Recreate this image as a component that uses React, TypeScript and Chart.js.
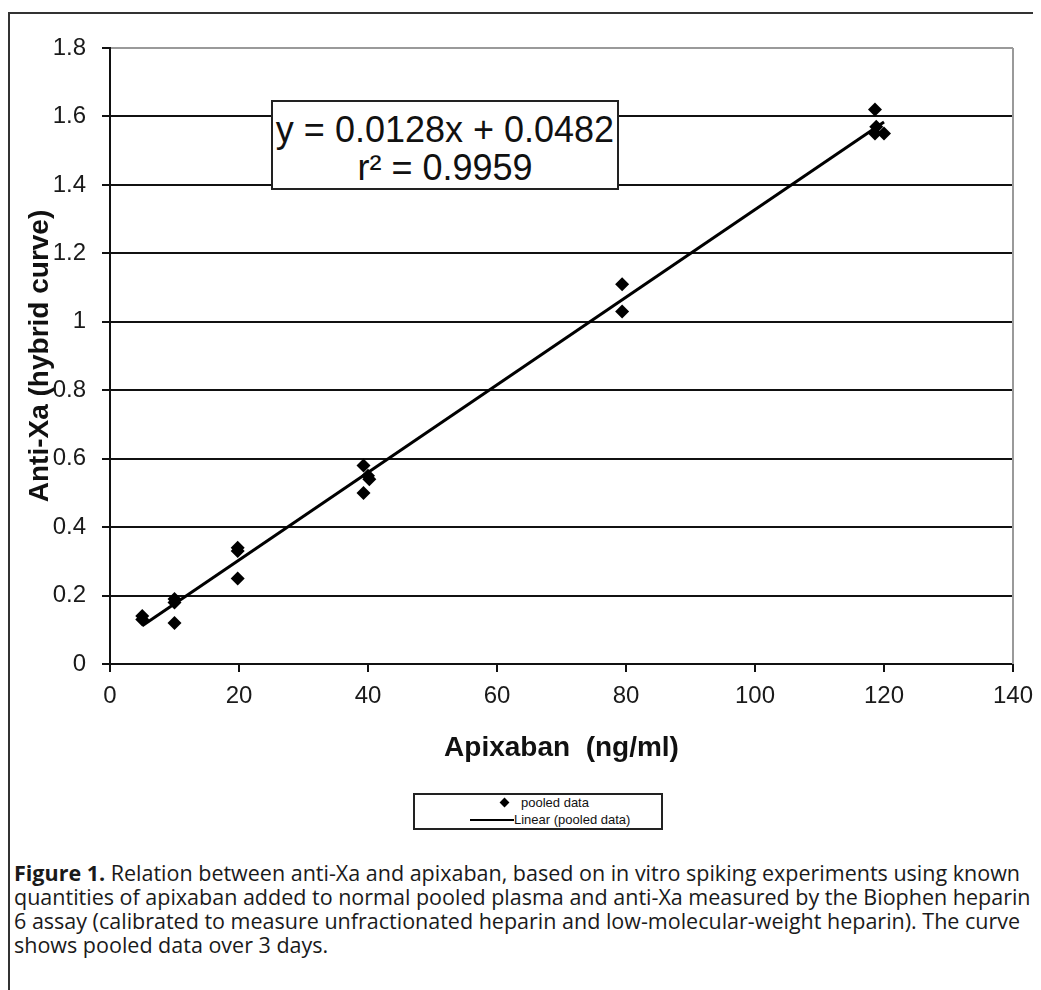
import React, { useEffect, useRef } from "react";
import { Chart, registerables } from "chart.js";

Chart.register(...registerables);

// Data
const pooledX = [5, 5, 10, 10, 10, 19.8, 19.8, 19.8, 39.3, 40, 40.2, 39.3, 79.4, 79.4, 118.6, 118.8, 120, 118.6];
const pooledY = [0.14, 0.13, 0.19, 0.18, 0.12, 0.34, 0.33, 0.25, 0.58, 0.55, 0.54, 0.5, 1.11, 1.03, 1.62, 1.57, 1.55, 1.55];
const trendX = [5, 120];
const trendY = [0.112, 1.584];
const xTicks = [0, 20, 40, 60, 80, 100, 120, 140];
const yTicks = [0, 0.2, 0.4, 0.6, 0.8, 1, 1.2, 1.4, 1.6, 1.8];

const equationLines = ["y = 0.0128x + 0.0482", "r² = 0.9959"];
const legendLabels = ["pooled data", "Linear (pooled data)"];
const captionBold = "Figure 1.";
const captionLines = [
  " Relation between anti-Xa and apixaban, based on in vitro spiking experiments using known",
  "quantities of apixaban added to normal pooled plasma and anti-Xa measured by the Biophen heparin",
  "6 assay (calibrated to measure unfractionated heparin and low-molecular-weight heparin). The curve",
  "shows pooled data over 3 days.",
];

const AXIS_FONT = "'Liberation Sans', Arial, sans-serif";

export default function App() {
  const canvasRef = useRef<HTMLCanvasElement | null>(null);

  useEffect(() => {
    document.body.style.overflow = "hidden";
    document.documentElement.style.overflow = "hidden";
    const canvas = canvasRef.current;
    if (!canvas) return;
    const borderPlugin = {
      id: "plotBorder",
      afterDraw(chart: any) {
        const { ctx, chartArea } = chart;
        ctx.save();
        ctx.strokeStyle = "#9a9a9a";
        ctx.lineWidth = 2;
        ctx.beginPath();
        ctx.moveTo(chartArea.right, chartArea.top);
        ctx.lineTo(chartArea.right, chartArea.bottom);
        ctx.stroke();
        ctx.restore();
      },
    };
    const chart = new Chart(canvas, {
      type: "scatter",
      data: {
        datasets: [
          {
            label: legendLabels[0],
            data: pooledX.map((x, i) => ({ x, y: pooledY[i] })),
            pointStyle: "rectRot",
            pointRadius: 7,
            pointHoverRadius: 7,
            backgroundColor: "#000",
            borderColor: "#000",
            borderWidth: 0,
            order: 2,
          },
          {
            type: "line",
            label: legendLabels[1],
            data: trendX.map((x, i) => ({ x, y: trendY[i] })),
            borderColor: "#000",
            borderWidth: 3,
            pointRadius: 0,
            showLine: true,
            fill: false,
            order: 1,
          } as any,
        ],
      },
      options: {
        animation: false,
        responsive: false,
        events: [],
        layout: { padding: { left: 4, right: 28, top: 34, bottom: 30 } },
        plugins: {
          legend: { display: false },
          tooltip: { enabled: false },
        },
        scales: {
          x: {
            type: "linear",
            min: 0,
            max: 140,
            afterBuildTicks: (scale: any) => {
              scale.ticks = xTicks.map((v) => ({ value: v }));
            },
            afterFit: (scale: any) => {
              scale.height = 110;
              scale.paddingRight = 0;
              scale.paddingLeft = 0;
            },
            ticks: {
              color: "#1a1a1a",
              font: { family: AXIS_FONT, size: 24 },
              padding: 10,
              maxRotation: 0,
            },
            grid: {
              drawOnChartArea: false,
              drawTicks: true,
              tickLength: 8,
              color: "#111",
              lineWidth: 2,
            },
            border: { display: true, color: "#111", width: 2 },
            title: {
              display: true,
              text: "Apixaban  (ng/ml)",
              color: "#111",
              font: { family: AXIS_FONT, size: 28, weight: "bold", lineHeight: 1 },
              padding: { top: 0, bottom: 12 },
            },
          },
          y: {
            type: "linear",
            min: 0,
            max: 1.8,
            afterBuildTicks: (scale: any) => {
              scale.ticks = yTicks.map((v) => ({ value: v }));
            },
            afterFit: (scale: any) => {
              scale.width = 96;
            },
            ticks: {
              color: "#1a1a1a",
              font: { family: AXIS_FONT, size: 24 },
              padding: 16,
              callback: (v: any) => String(Math.round(Number(v) * 10) / 10),
            },
            grid: {
              drawTicks: true,
              tickLength: 8,
              color: (c: any) => (c.tick && Math.abs(c.tick.value - 1.8) < 1e-9 ? "#9a9a9a" : "#111"),
              tickColor: "#111",
              lineWidth: 2,
            },
            border: { display: true, color: "#111", width: 2 },
            title: {
              display: true,
              text: "Anti-Xa (hybrid curve)",
              color: "#111",
              font: { family: AXIS_FONT, size: 28, weight: "bold", lineHeight: 1 },
              padding: { top: 12, bottom: 0 },
            },
          },
        },
      },
      plugins: [borderPlugin],
    } as any);
    return () => chart.destroy();
  }, []);

  return (
    <div style={{ position: "relative", width: 1033, height: 982, overflow: "hidden" }}>
      <div
        style={{
          position: "absolute",
          left: 0,
          top: 4,
          width: 1033,
          height: 1000,
          borderLeft: "2px solid #333",
          borderTop: "2px solid #333",
          boxSizing: "border-box",
        }}
      />
      <canvas
        ref={canvasRef}
        width={1031}
        height={790}
        style={{ position: "absolute", left: 2, top: 6, width: 1031, height: 790 }}
      />
      {/* regression equation box */}
      <div
        style={{
          position: "absolute",
          left: 263,
          top: 92,
          width: 348,
          height: 90,
          boxSizing: "border-box",
          border: "2px solid #222",
          background: "#fff",
          fontFamily: AXIS_FONT,
          fontSize: 36,
          lineHeight: "38px",
          color: "#111",
          textAlign: "center",
          paddingTop: 9,
          whiteSpace: "nowrap",
        }}
      >
        <div>{equationLines[0]}</div>
        <div>{equationLines[1]}</div>
      </div>
      {/* legend */}
      <div
        style={{
          position: "absolute",
          left: 405,
          top: 785,
          width: 250,
          height: 37,
          boxSizing: "border-box",
          border: "2px solid #222",
          background: "#fff",
          fontFamily: AXIS_FONT,
          fontSize: 13,
          color: "#111",
          whiteSpace: "nowrap",
        }}
      >
        <div
          style={{
            position: "absolute",
            left: 86,
            top: 4,
            width: 7,
            height: 7,
            background: "#000",
            transform: "rotate(45deg)",
          }}
        />
        <div style={{ position: "absolute", left: 106, top: 0, lineHeight: "16px" }}>{legendLabels[0]}</div>
        <div
          style={{
            position: "absolute",
            left: 55,
            top: 24,
            width: 44,
            height: 2,
            background: "#000",
          }}
        />
        <div style={{ position: "absolute", left: 99, top: 17, lineHeight: "16px" }}>{legendLabels[1]}</div>
      </div>
      {/* caption */}
      <div
        style={{
          position: "absolute",
          left: 6,
          top: 853,
          fontFamily: "'Open Sans', 'Noto Sans', sans-serif",
          fontSize: 21.5,
          lineHeight: "24px",
          color: "#1a1a1a",
          whiteSpace: "nowrap",
        }}
      >
        {captionLines.map((line, i) => (
          <div key={i}>
            {i === 0 ? <b>{captionBold}</b> : null}
            {line}
          </div>
        ))}
      </div>
    </div>
  );
}
